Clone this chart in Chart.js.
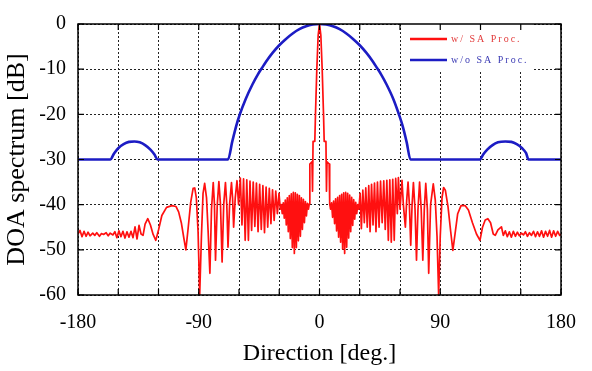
<!DOCTYPE html>
<html>
<head>
<meta charset="utf-8">
<script src="https://cdn.jsdelivr.net/npm/chart.js@4/dist/chart.umd.min.js"></script>
<style>
  html, body { margin: 0; padding: 0; background: #fff; }
  canvas { display: block; }
</style>
</head>
<body>
<canvas id="doaChart" width="592" height="371"></canvas>
<script>
// direction [deg], level [dB]
const redSpectrum = [
  [-180, -46.5], [-178.5, -45.7], [-177, -47.1], [-175.5, -45.9], [-174, -47.0], [-172.5, -46.1],
  [-171, -46.9], [-169, -46.3], [-167.5, -46.8], [-166, -46.2], [-164, -47.0], [-162.5, -46.4],
  [-161, -46.6], [-159, -46.2], [-157.5, -46.9], [-156, -46.3], [-154, -46.7], [-152.5, -46.0],
  [-151, -47.3], [-149.5, -45.8], [-148, -47.1], [-146.5, -45.9], [-145, -47.4], [-143.5, -46.0],
  [-142, -47.2], [-140.5, -45.9], [-139, -47.3], [-137.5, -44.9], [-136, -47.6], [-134.5, -44.6],
  [-133, -46.5], [-131.5, -46.8], [-130, -44.3], [-128, -43.1], [-126, -44.5], [-124, -46.6],
  [-122, -47.9], [-120, -45.6], [-117.5, -42.4], [-114, -40.6], [-110, -40.2], [-107, -40.4],
  [-105, -41.6], [-103, -44], [-101, -47.6], [-99.6, -50], [-98, -45.5], [-96, -39.5],
  [-94.2, -36.4], [-93, -36.3], [-91.8, -38.5], [-90.5, -46], [-89.3, -60], [-88, -47],
  [-86.8, -37.5], [-85.6, -35.3], [-84.2, -38.5], [-83, -46], [-81.7, -55.2], [-80.5, -41],
  [-79.2, -35.1], [-78.3, -40], [-77.5, -52.3], [-76.2, -40], [-75, -34.9], [-73.8, -40],
  [-72.6, -52.7], [-71.4, -40], [-70.1, -35.1], [-69.1, -40], [-68.2, -49.4], [-67, -40],
  [-65.6, -35.1], [-64.8, -38.5], [-64, -45], [-62.8, -38.5], [-61.5, -34.7], [-60.3, -40],
  [-59, -34.1], [-57.8, -44.5], [-56.6, -34.3], [-55.4, -47.9], [-54.2, -34.5], [-53, -47.9],
  [-51.8, -34.8], [-50.6, -45.7], [-49.4, -35], [-48.2, -44.8], [-47, -35.2], [-45.8, -46],
  [-44.6, -35.5], [-43.4, -45.5], [-42.2, -35.8], [-41, -46.2], [-39.8, -36.1], [-38.6, -45],
  [-37.4, -36.4], [-36.2, -44.2], [-35, -36.7], [-33.8, -43.5], [-32.6, -37], [-31.4, -42],
  [-30.2, -37.5], [-29.2, -41],
  [-28.5, -40], [-27.75, -42], [-27, -39.6], [-26.25, -43], [-25.5, -39], [-24.75, -44.5],
  [-24, -38.5], [-23.25, -46], [-22.5, -38], [-21.75, -47.5], [-21, -37.6], [-20.25, -49.5],
  [-19.5, -37.3], [-18.75, -50.8], [-18, -37.4], [-17.25, -49.5], [-16.5, -37.7], [-15.75, -48],
  [-15, -38], [-14.25, -47], [-13.5, -38.5], [-12.75, -45.5], [-12, -38.8], [-11.25, -44],
  [-10.5, -39.3], [-9.75, -42.5], [-9, -39.7], [-8.25, -41], [-7.6, -39.8],
  [-7.2, -31], [-5.6, -30.5], [-5.2, -37], [-4.8, -26], [-3.5, -26], [-3, -20], [-2, -10],
  [-1, -2.5], [0, 0], [1, -2.5], [2, -10], [3, -20], [3.5, -26], [4.8, -26], [5.2, -37],
  [5.6, -30.5], [7.2, -31], [7.6, -39.8],
  [8.25, -41], [9, -39.6], [9.75, -42.8], [10.5, -39.2], [11.25, -44.2], [12, -38.7],
  [12.75, -45.8], [13.5, -38.4], [14.25, -47.2], [15, -38], [15.75, -48.3], [16.5, -37.7],
  [17.25, -49.8], [18, -37.4], [18.75, -50.8], [19.5, -37.3], [20.25, -49.4], [21, -37.5],
  [21.75, -47.4], [22.5, -37.9], [23.25, -46], [24, -38.4], [24.75, -44.6], [25.5, -38.9],
  [26.25, -43.2], [27, -39.5], [27.75, -42], [28.5, -40],
  [29.3, -41], [30.3, -37.5], [31.2, -45.3], [32.3, -36.8], [33.4, -44], [34.5, -36.3],
  [35.6, -45], [36.7, -35.8], [37.7, -46], [38.8, -35.5], [39.9, -44.5], [41, -35.2],
  [42.1, -46], [43.2, -35], [44.4, -45], [45.5, -34.8], [46.7, -44], [47.9, -34.7],
  [49, -45.5], [50.2, -34.6], [51.3, -47.9], [52.4, -34.5], [53.5, -48.3], [54.6, -34.4],
  [55.7, -47.9], [56.8, -34.2], [58, -42], [58.8, -34], [60, -41], [61.5, -34.6],
  [62.5, -40], [64, -45], [65, -39], [66, -35], [67, -40], [68, -49], [69, -40], [70, -35.1],
  [71.2, -41], [72.3, -52.3], [73.4, -41], [74.6, -35], [75.8, -41], [77, -52.3], [78.1, -41],
  [79.2, -35.3], [80.4, -41], [81.4, -55.2], [82.8, -40], [84.8, -35.4], [86.3, -39],
  [87.6, -47], [88.8, -60], [90, -47], [91.3, -38.5], [92.5, -36.2], [93.8, -36.8],
  [95.8, -40.5], [97.8, -46], [99.4, -50.1], [101, -46.5], [103, -42], [105.5, -40.2],
  [108.5, -40.2], [111, -41.2], [114, -44], [117, -46.5], [119.6, -47.9], [121.5, -45],
  [123.5, -43.4], [125.5, -43.1], [127.5, -44], [129.5, -46.5], [131, -46.8], [133, -45.6],
  [135.6, -44.9], [137, -46.8], [138.5, -45.8], [140, -47.1], [141.5, -46.0], [143, -47.2],
  [144.5, -45.9], [146, -47.0], [147.5, -46.1], [149, -46.9], [150.5, -46.3], [152, -46.7],
  [153.5, -46.0], [155, -47.0], [156.5, -46.2], [158, -46.8], [159.5, -45.9], [161, -47.1],
  [162.5, -46.0], [164, -47.0], [165.5, -45.8], [167, -47.2], [168.5, -45.9], [170, -47.0],
  [171.5, -45.7], [173, -47.2], [174.5, -45.8], [176, -47.0], [177.5, -45.9], [179, -46.8],
  [180, -46.5]
];

const blueSpectrum = [
  [-180, -30], [-156, -30], [-153, -28.6], [-150, -27.5], [-146, -26.6], [-142, -26.1],
  [-138, -26], [-134, -26.2], [-130, -26.8], [-126, -27.8], [-123, -28.9], [-120.7, -30],
  [-68.2, -30], [-65, -26], [-62, -22.5], [-59.5, -20.1], [-55, -16.6], [-50, -13.4],
  [-46, -11.2], [-43, -9.8], [-40, -8.4], [-35, -6.4], [-30, -4.7], [-25, -3.3],
  [-20, -2.1], [-15, -1.15], [-10, -0.5], [-5, -0.13], [0, 0], [5, -0.13], [10, -0.5],
  [15, -1.15], [20, -2.1], [25, -3.3], [30, -4.7], [35, -6.4], [40, -8.4], [43, -9.8],
  [46, -11.2], [50, -13.4], [55, -16.6], [59.3, -20.1], [62, -22.6], [65, -26.2],
  [67.8, -30], [119.6, -30], [122, -28.9], [125, -27.8], [129, -26.8], [133, -26.2],
  [138.5, -26], [143, -26.1], [147, -26.6], [151, -27.5], [154, -28.6], [155.8, -30],
  [180, -30]
];

const xTicks = [-180, -150, -120, -90, -60, -30, 0, 30, 60, 90, 120, 150, 180];
const xLabelTicks = [-180, -90, 0, 90, 180];
const yTicks = [-60, -50, -40, -30, -20, -10, 0];

const serif = "'Liberation Serif', 'Times New Roman', serif";

const frame = {
  id: "frame",
  afterDatasetsDraw(chart) {
    const ctx = chart.ctx;
    const area = chart.chartArea;
    // legend box, inside the top right of the plot
    const boxLeft = 402, boxRight = 532, boxTop = area.top, boxBottom = 72;
    ctx.save();
    ctx.fillStyle = "#fff";
    ctx.fillRect(boxLeft, boxTop, boxRight - boxLeft, boxBottom - boxTop);
    const textColors = ["#e23a3a", "#3a3ab4"];
    chart.data.datasets.forEach((ds, i) => {
      const y = 39 + i * 21;
      ctx.strokeStyle = ds.borderColor;
      ctx.lineWidth = 2.4;
      ctx.beginPath();
      ctx.moveTo(410, y);
      ctx.lineTo(447, y);
      ctx.stroke();
      ctx.fillStyle = textColors[i];
      ctx.font = "10px " + serif;
      ctx.letterSpacing = "2px";
      ctx.textBaseline = "middle";
      ctx.fillText(ds.label, 451, y);
    });
    ctx.restore();
  },
  afterDraw(chart) {
    const ctx = chart.ctx;
    const {left, right, top, bottom} = chart.chartArea;
    const x = chart.scales.x;
    const y = chart.scales.y;
    ctx.save();
    ctx.strokeStyle = "#000";
    ctx.lineWidth = 1.5;
    ctx.strokeRect(left, top, right - left, bottom - top);
    ctx.lineWidth = 1.2;
    ctx.beginPath();
    xTicks.forEach(v => {
      const px = x.getPixelForValue(v);
      ctx.moveTo(px, bottom);
      ctx.lineTo(px, bottom - 6);
      ctx.moveTo(px, top);
      ctx.lineTo(px, top + 6);
    });
    yTicks.forEach(v => {
      const py = y.getPixelForValue(v);
      ctx.moveTo(left, py);
      ctx.lineTo(left + 6, py);
      ctx.moveTo(right, py);
      ctx.lineTo(right - 6, py);
    });
    ctx.stroke();
    ctx.restore();
  }
};

new Chart(document.getElementById("doaChart"), {
  type: "line",
  data: {
    datasets: [
      {
        label: "w/ SA Proc.",
        data: redSpectrum,
        borderColor: "#ff1010",
        borderWidth: 1.7,
        borderJoinStyle: "round",
        pointRadius: 0,
        tension: 0
      },
      {
        label: "w/o SA Proc.",
        data: blueSpectrum,
        borderColor: "#1c1cc4",
        borderWidth: 2.6,
        pointRadius: 0,
        cubicInterpolationMode: "monotone"
      }
    ]
  },
  options: {
    responsive: false,
    animation: false,
    layout: {
      padding: { top: 22, right: 27, left: 0, bottom: 0 }
    },
    plugins: {
      legend: { display: false },
      tooltip: { enabled: false }
    },
    scales: {
      x: {
        type: "linear",
        min: -180,
        max: 180,
        afterBuildTicks: scale => {
          scale.ticks = xTicks.map(v => ({ value: v }));
        },
        afterFit: scale => {
          scale.height = 76;
        },
        ticks: {
          autoSkip: false,
          maxRotation: 0,
          padding: 16,
          color: "#000",
          font: { family: serif, size: 20 },
          callback: v => (xLabelTicks.includes(v) ? String(v) : "")
        },
        grid: {
          color: "#222",
          lineWidth: 1,
          drawTicks: false
        },
        border: { display: false, dash: [2, 2] },
        title: {
          display: true,
          text: "Direction [deg.]",
          color: "#000",
          font: { family: serif, size: 24 },
          padding: { top: 0, bottom: 3 }
        }
      },
      y: {
        min: -60,
        max: 0,
        afterBuildTicks: scale => {
          scale.ticks = yTicks.map(v => ({ value: v }));
        },
        afterFit: scale => {
          scale.width = 78;
        },
        ticks: {
          padding: 12,
          color: "#000",
          font: { family: serif, size: 20 }
        },
        grid: {
          color: "#222",
          lineWidth: 1,
          drawTicks: false
        },
        border: { display: false, dash: [2, 2] },
        title: {
          display: true,
          text: "DOA spectrum [dB]",
          color: "#000",
          font: { family: serif, size: 26 },
          padding: { top: 2, bottom: 0 }
        }
      }
    }
  },
  plugins: [frame]
});
</script>
</body>
</html>
